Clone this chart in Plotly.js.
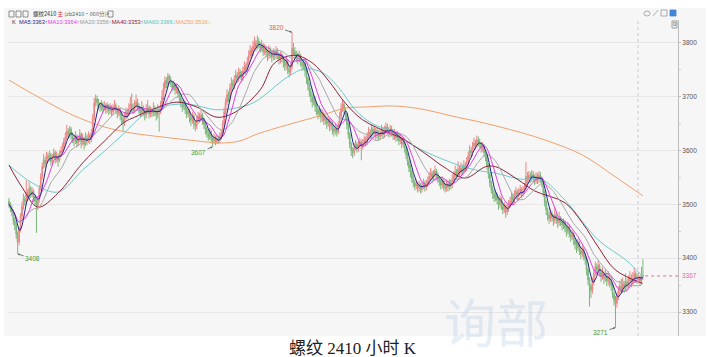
<!DOCTYPE html>
<html><head><meta charset="utf-8">
<script src="https://cdn.plot.ly/plotly-3.0.1.min.js"></script>
<style>html,body{margin:0;padding:0;background:#fff;}#chart{width:707px;height:357px;}</style>
</head><body><div id="chart"></div>
<script>
const open = [
3506,3500,3492,3486,3470,3462,3445,3430,3452,3478,
3496,3510,3505,3522,3515,3530,3518,3524,3512,3506,
3498,3508,3530,3552,3570,3582,3576,3590,3586,3592,
3580,3588,3596,3584,3590,3582,3594,3600,3606,3618,
3625,3636,3630,3640,3628,3622,3618,3626,3614,3620,
3630,3616,3622,3612,3624,3618,3628,3620,3632,3660,
3688,3696,3690,3684,3680,3686,3678,3684,3676,3682,
3674,3680,3672,3678,3684,3676,3670,3676,3666,3658,
3652,3664,3672,3668,3678,3686,3680,3676,3684,3690,
3682,3676,3670,3678,3672,3666,3674,3680,3668,3674,
3670,3678,3672,3666,3676,3672,3684,3700,3716,3730,
3724,3738,3732,3726,3718,3722,3712,3716,3706,3698,
3690,3682,3688,3676,3668,3674,3662,3656,3664,3650,
3646,3656,3664,3660,3666,3656,3648,3640,3632,3626,
3634,3622,3618,3624,3616,3622,3618,3626,3632,3650,
3672,3690,3704,3698,3716,3726,3720,3732,3740,3734,
3746,3740,3736,3748,3756,3750,3764,3776,3786,3780,
3794,3800,3792,3804,3798,3790,3796,3784,3790,3782,
3776,3786,3780,3774,3782,3776,3784,3778,3770,3776,
3772,3764,3758,3766,3752,3746,3756,3790,3784,3778,
3772,3770,3776,3764,3758,3762,3748,3734,3722,3710,
3700,3690,3696,3682,3676,3668,3674,3662,3668,3656,
3660,3650,3656,3646,3650,3640,3636,3642,3634,3646,
3664,3678,3686,3676,3666,3648,3630,3612,3600,3596,
3606,3612,3604,3610,3616,3608,3614,3620,3616,3626,
3634,3628,3640,3632,3638,3628,3634,3626,3632,3638,
3630,3636,3644,3638,3632,3640,3634,3628,3632,3624,
3628,3618,3622,3612,3616,3604,3592,3580,3568,3560,
3548,3540,3534,3538,3530,3536,3528,3534,3540,3532,
3538,3544,3552,3558,3550,3556,3562,3554,3548,3542,
3536,3544,3534,3530,3538,3532,3540,3536,3546,3552,
3560,3556,3566,3560,3568,3562,3572,3568,3580,3590,
3600,3596,3608,3614,3610,3620,3616,3612,3604,3608,
3596,3588,3572,3556,3540,3528,3520,3512,3518,3508,
3500,3510,3498,3490,3496,3486,3492,3500,3506,3514,
3508,3518,3524,3516,3522,3528,3520,3526,3532,3552,
3546,3554,3548,3556,3550,3544,3552,3546,3554,3548,
3540,3522,3504,3490,3480,3474,3482,3476,3470,3480,
3472,3466,3474,3468,3462,3466,3456,3450,3458,3446,
3440,3444,3434,3426,3420,3428,3414,3408,3416,3404,
3398,3378,3360,3348,3340,3356,3372,3384,3378,3386,
3374,3366,3372,3362,3368,3358,3364,3356,3350,3334,
3322,3316,3328,3340,3348,3342,3352,3346,3356,3350,
3358,3364,3356,3362,3370,3364,3362,3364,3358,3368];
const high = [
3512,3504,3498,3490,3476,3466,3450,3458,3484,3504,
3520,3516,3545,3528,3542,3534,3532,3528,3516,3510,
3514,3536,3558,3578,3594,3588,3598,3596,3600,3596,
3594,3604,3600,3598,3594,3600,3608,3614,3624,3634,
3648,3642,3646,3644,3634,3628,3636,3630,3628,3640,
3634,3632,3626,3634,3630,3636,3632,3640,3668,3698,
3704,3702,3696,3690,3694,3690,3692,3688,3690,3686,
3688,3684,3686,3694,3688,3680,3684,3680,3670,3662,
3672,3680,3678,3688,3700,3706,3688,3694,3704,3696,
3688,3682,3692,3684,3678,3686,3694,3684,3682,3680,
3690,3684,3676,3686,3680,3692,3712,3726,3738,3736,
3744,3742,3738,3730,3730,3726,3724,3720,3710,3702,
3694,3696,3692,3680,3682,3678,3668,3672,3668,3656,
3664,3672,3670,3676,3670,3660,3652,3644,3638,3642,
3638,3628,3632,3628,3630,3628,3634,3640,3656,3680,
3698,3714,3710,3724,3736,3732,3740,3750,3746,3754,
3752,3748,3756,3766,3762,3774,3786,3796,3792,3804,
3812,3806,3814,3810,3802,3806,3800,3798,3794,3788,
3796,3792,3786,3790,3788,3794,3790,3782,3784,3782,
3776,3770,3774,3770,3758,3764,3820,3800,3792,3786,
3782,3786,3780,3770,3770,3766,3752,3738,3726,3716,
3706,3704,3700,3688,3680,3684,3678,3676,3672,3668,
3664,3664,3660,3658,3654,3646,3650,3646,3654,3672,
3688,3694,3690,3680,3670,3652,3634,3616,3606,3614,
3620,3616,3618,3624,3620,3622,3628,3626,3634,3644,
3640,3648,3644,3646,3642,3642,3638,3640,3648,3644,
3646,3652,3650,3644,3648,3646,3640,3640,3636,3636,
3632,3630,3626,3624,3620,3608,3596,3584,3574,3564,
3554,3546,3546,3542,3544,3540,3542,3548,3544,3546,
3552,3560,3568,3562,3564,3572,3566,3560,3552,3548,
3552,3548,3540,3546,3542,3548,3546,3556,3562,3572,
3566,3580,3572,3578,3574,3582,3578,3588,3598,3610,
3606,3616,3624,3620,3628,3626,3622,3616,3616,3612,
3600,3592,3576,3560,3544,3534,3526,3526,3522,3514,
3518,3514,3502,3504,3500,3500,3508,3514,3522,3520,
3526,3532,3528,3530,3536,3532,3534,3540,3579,3560,
3562,3560,3564,3562,3556,3560,3558,3562,3560,3552,
3544,3526,3508,3494,3486,3492,3488,3482,3494,3484,
3478,3486,3478,3472,3474,3470,3462,3466,3462,3452,
3452,3448,3438,3432,3436,3432,3420,3424,3420,3410,
3402,3382,3364,3352,3364,3380,3394,3390,3396,3390,
3380,3384,3376,3380,3372,3376,3368,3362,3354,3338,
3330,3336,3348,3358,3362,3364,3358,3372,3362,3368,
3376,3370,3374,3382,3376,3372,3374,3368,3384,3398];
const low = [
3494,3486,3478,3462,3452,3436,3408,3424,3448,3472,
3490,3498,3500,3508,3510,3512,3514,3504,3498,3447,
3490,3504,3526,3546,3566,3568,3572,3578,3580,3572,
3574,3584,3576,3578,3570,3578,3588,3596,3602,3612,
3620,3622,3624,3620,3614,3608,3612,3606,3608,3616,
3604,3610,3602,3608,3610,3614,3612,3616,3628,3656,
3682,3682,3676,3672,3674,3670,3674,3668,3670,3666,
3668,3664,3666,3674,3668,3660,3664,3656,3648,3635,
3646,3658,3660,3664,3672,3672,3668,3670,3678,3674,
3668,3662,3664,3664,3656,3660,3668,3660,3662,3662,
3664,3664,3656,3660,3635,3668,3680,3694,3710,3716,
3718,3724,3718,3710,3712,3704,3706,3698,3690,3680,
3672,3676,3668,3660,3662,3652,3646,3650,3640,3636,
3640,3650,3652,3654,3648,3640,3630,3624,3618,3620,
3614,3607,3612,3610,3612,3612,3614,3620,3628,3646,
3666,3684,3690,3692,3710,3712,3714,3726,3726,3728,
3732,3728,3730,3742,3742,3746,3758,3770,3772,3776,
3788,3784,3788,3790,3782,3784,3776,3778,3774,3766,
3770,3772,3764,3768,3768,3770,3770,3760,3762,3764,
3754,3748,3750,3742,3736,3740,3750,3776,3770,3764,
3760,3764,3756,3748,3750,3738,3724,3712,3700,3690,
3680,3684,3672,3666,3658,3662,3652,3654,3648,3648,
3640,3644,3636,3638,3630,3626,3630,3626,3630,3642,
3660,3672,3668,3656,3640,3622,3604,3590,3586,3590,
3600,3596,3598,3604,3582,3602,3608,3608,3610,3620,
3620,3622,3624,3626,3620,3622,3618,3620,3626,3622,
3624,3630,3630,3624,3626,3626,3620,3620,3616,3618,
3610,3612,3604,3606,3596,3584,3572,3560,3550,3540,
3532,3526,3528,3522,3524,3520,3522,3528,3524,3526,
3532,3538,3546,3542,3544,3550,3546,3540,3534,3528,
3530,3526,3522,3524,3524,3526,3528,3530,3540,3546,
3548,3550,3552,3554,3554,3556,3560,3562,3574,3584,
3588,3590,3602,3602,3604,3608,3604,3596,3598,3588,
3580,3564,3548,3532,3520,3510,3504,3506,3500,3490,
3494,3490,3482,3484,3475,3480,3486,3494,3500,3500,
3502,3512,3508,3510,3516,3512,3514,3520,3528,3538,
3540,3540,3542,3542,3536,3538,3538,3540,3540,3532,
3514,3496,3480,3470,3464,3468,3468,3460,3464,3464,
3456,3460,3460,3452,3454,3448,3440,3444,3438,3430,
3434,3424,3416,3410,3414,3406,3398,3402,3396,3388,
3368,3350,3310,3326,3334,3350,3366,3370,3372,3366,
3356,3360,3352,3356,3348,3350,3346,3340,3326,3312,
3271,3308,3322,3334,3334,3336,3336,3340,3340,3344,
3350,3346,3350,3356,3354,3352,3354,3348,3352,3360];
const close = [
3500,3492,3486,3470,3462,3445,3430,3452,3478,3496,
3510,3505,3522,3515,3530,3518,3524,3512,3506,3498,
3508,3530,3552,3570,3582,3576,3590,3586,3592,3580,
3588,3596,3584,3590,3582,3594,3600,3606,3618,3625,
3636,3630,3640,3628,3622,3618,3626,3614,3620,3630,
3616,3622,3612,3624,3618,3628,3620,3632,3660,3688,
3696,3690,3684,3680,3686,3678,3684,3676,3682,3674,
3680,3672,3678,3684,3676,3670,3676,3666,3658,3652,
3664,3672,3668,3678,3686,3680,3676,3684,3690,3682,
3676,3670,3678,3672,3666,3674,3680,3668,3674,3670,
3678,3672,3666,3676,3672,3684,3700,3716,3730,3724,
3738,3732,3726,3718,3722,3712,3716,3706,3698,3690,
3682,3688,3676,3668,3674,3662,3656,3664,3650,3646,
3656,3664,3660,3666,3656,3648,3640,3632,3626,3634,
3622,3618,3624,3616,3622,3618,3626,3632,3650,3672,
3690,3704,3698,3716,3726,3720,3732,3740,3734,3746,
3740,3736,3748,3756,3750,3764,3776,3786,3780,3794,
3800,3792,3804,3798,3790,3796,3784,3790,3782,3776,
3786,3780,3774,3782,3776,3784,3778,3770,3776,3772,
3764,3758,3766,3752,3746,3756,3790,3784,3778,3772,
3770,3776,3764,3758,3762,3748,3734,3722,3710,3700,
3690,3696,3682,3676,3668,3674,3662,3668,3656,3660,
3650,3656,3646,3650,3640,3636,3642,3634,3646,3664,
3678,3686,3676,3666,3648,3630,3612,3600,3596,3606,
3612,3604,3610,3616,3608,3614,3620,3616,3626,3634,
3628,3640,3632,3638,3628,3634,3626,3632,3638,3630,
3636,3644,3638,3632,3640,3634,3628,3632,3624,3628,
3618,3622,3612,3616,3604,3592,3580,3568,3560,3548,
3540,3534,3538,3530,3536,3528,3534,3540,3532,3538,
3544,3552,3558,3550,3556,3562,3554,3548,3542,3536,
3544,3534,3530,3538,3532,3540,3536,3546,3552,3560,
3556,3566,3560,3568,3562,3572,3568,3580,3590,3600,
3596,3608,3614,3610,3620,3616,3612,3604,3608,3596,
3588,3572,3556,3540,3528,3520,3512,3518,3508,3500,
3510,3498,3490,3496,3486,3492,3500,3506,3514,3508,
3518,3524,3516,3522,3528,3520,3526,3532,3552,3546,
3554,3548,3556,3550,3544,3552,3546,3554,3548,3540,
3522,3504,3490,3480,3474,3482,3476,3470,3480,3472,
3466,3474,3468,3462,3466,3456,3450,3458,3446,3440,
3444,3434,3426,3420,3428,3414,3408,3416,3404,3398,
3378,3360,3348,3340,3356,3372,3384,3378,3386,3374,
3366,3372,3362,3368,3358,3364,3356,3350,3334,3322,
3316,3328,3340,3348,3342,3352,3346,3356,3350,3358,
3364,3356,3362,3370,3364,3362,3364,3358,3368,3367];

// long moving averages (bar index, value)
const ma40Idx = [0,9,20,34,51,67,80,87,98,116,130,144,157,174,184,198,210,221,233,245,264,272,288,302,316,330,337,353,364,385,397,408,420,439];
const ma40Val = [3573,3532,3495,3521,3577,3620,3653,3662,3675,3690,3681,3662,3672,3713,3763,3777,3763,3731,3688,3657,3632,3623,3595,3568,3549,3570,3570,3545,3525,3503,3466,3421,3378,3353];
const ma60Idx = [0,16,34,51,67,80,94,108,125,143,157,170,193,205,217,228,240,251,264,283,307,323,337,354,369,385,408,427,439];
const ma60Val = [3573,3540,3523,3564,3601,3633,3668,3683,3686,3676,3679,3690,3737,3752,3745,3718,3675,3651,3636,3605,3577,3564,3558,3547,3546,3508,3434,3397,3366];
const ma250Idx = [0,20,44,66,84,107,130,146,160,172,193,217,233,247,264,276,290,307,323,337,354,373,397,420,439];
const ma250Val = [3731,3700,3666,3644,3633,3625,3618,3614,3618,3631,3648,3666,3679,3681,3683,3681,3675,3664,3655,3646,3634,3618,3592,3551,3516];

const yTicks = [3300,3400,3500,3600,3700,3800];
const lastPrice = 3367;
const extremes = [
  {i:196, v:3820, txt:'3820', col:'#e8604c', ax:-16, ay:-5},
  {i:141, v:3607, txt:'3607', col:'#3f9a3f', ax:-14, ay:6},
  {i:6,   v:3408, txt:'3408', col:'#3f9a3f', ax:15, ay:5},
  {i:420, v:3271, txt:'3271', col:'#3f9a3f', ax:-15, ay:5}
];

const idx = close.map((_, i) => i);
function ma(n) {
  return close.map((_, i) => {
    const s = Math.max(0, i - n + 1);
    let sum = 0;
    for (let k = s; k <= i; k++) sum += close[k];
    return sum / (i - s + 1);
  });
}

const traces = [
  {type:'candlestick', x:idx, open:open, high:high, low:low, close:close,
   increasing:{line:{color:'#ee8484', width:1}, fillcolor:'#f8b2b2'},
   decreasing:{line:{color:'#7ab87a', width:1}, fillcolor:'#a0cda0'},
   hoverinfo:'skip', showlegend:false},
  {type:'scatter', mode:'lines', x:ma250Idx, y:ma250Val, line:{color:'#f2a06c', width:1, shape:'spline'}, hoverinfo:'skip', showlegend:false},
  {type:'scatter', mode:'lines', x:ma60Idx, y:ma60Val, line:{color:'#6fcaca', width:1, shape:'spline'}, hoverinfo:'skip', showlegend:false},
  {type:'scatter', mode:'lines', x:ma40Idx, y:ma40Val, line:{color:'#8e2236', width:1, shape:'spline'}, hoverinfo:'skip', showlegend:false},
  {type:'scatter', mode:'lines', x:idx, y:ma(20), line:{color:'#a8a8a8', width:1}, hoverinfo:'skip', showlegend:false},
  {type:'scatter', mode:'lines', x:idx, y:ma(10), line:{color:'#e040e0', width:1}, hoverinfo:'skip', showlegend:false},
  {type:'scatter', mode:'lines', x:idx, y:ma(5), line:{color:'#23238c', width:1}, hoverinfo:'skip', showlegend:false}
];

const W = 707, H = 357, L = 8, R = 678, T = 20, B = 336;
const px = v => (v - L) / (R - L);
const py = v => (B - v) / (B - T);

const annotations = extremes.map(e => ({
  x:e.i, y:e.v, xref:'x', yref:'y', text:e.txt, showarrow:true,
  ax:e.ax, ay:e.ay, arrowhead:2, arrowsize:0.5, arrowwidth:0.8, arrowcolor:'#555',
  font:{family:'Arial, Liberation Sans, sans-serif', size:6.5, color:e.col}
}));
annotations.push(
  {xref:'paper', yref:'y', x:1, y:lastPrice, xanchor:'left', xshift:2, text:String(lastPrice), showarrow:false,
   font:{family:'Arial, Liberation Sans, sans-serif', size:6.5, color:'#e070a0'}},
  {xref:'paper', yref:'paper', x:px(31), y:py(14), xanchor:'left', yanchor:'middle', showarrow:false,
   text:'<span style="color:#333">螺纹2410</span> <span style="color:#e03030">主</span> <span style="color:#666">(zb2410·060分)&gt;</span>',
   font:{family:'Noto Sans CJK SC, sans-serif', size:5.5}},
  {xref:'paper', yref:'paper', x:px(10), y:py(21.5), xanchor:'left', yanchor:'middle', showarrow:false,
   text:'<span style="color:#333">K</span>  <span style="color:#23238c">MA5:3363↑</span><span style="color:#e040e0">MA10:3364↑</span><span style="color:#999">MA20:3356↑</span><span style="color:#8e2236">MA40:3353↑</span><span style="color:#5cc0c0">MA60:3366↓</span><span style="color:#f2a06c">MA250:3516↓</span>',
   font:{family:'Arial, Liberation Sans, sans-serif', size:5.7}},
  {xref:'paper', yref:'paper', x:px(674.5), y:py(24.5), xanchor:'center', yanchor:'middle', showarrow:false,
   text:'0', font:{family:'Arial, sans-serif', size:6, color:'#555'}},
  {xref:'paper', yref:'paper', x:px(353), y:py(348), xanchor:'center', yanchor:'middle', showarrow:false,
   text:'螺纹 2410 小时 K', font:{family:'Liberation Serif, Noto Sans CJK SC, serif', size:17, color:'#222'}},
  {xref:'paper', yref:'paper', x:px(496), y:py(320), xanchor:'center', yanchor:'middle', showarrow:false,
   text:'询部', font:{family:'Noto Sans CJK SC, sans-serif', size:52, color:'rgba(140,178,220,0.22)'}}
);

const shapes = [
  {type:'rect', xref:'paper', yref:'paper', x0:px(4), x1:px(706), y0:0, y1:py(8), fillcolor:'#f6f6f6', line:{width:0}, layer:'below'},
  {type:'line', xref:'x', yref:'paper', x0:435.6, x1:435.6, y0:0, y1:1, line:{color:'#c8c8c8', width:1, dash:'dot'}},
  {type:'line', xref:'x', yref:'y', x0:440.5, x1:463.3, y0:lastPrice, y1:lastPrice, line:{color:'#e070a0', width:1, dash:'dot'}},
  {type:'rect', xref:'paper', yref:'paper', x0:px(9), x1:px(14), y0:py(17), y1:py(11), line:{color:'#777', width:0.8}},
  {type:'rect', xref:'paper', yref:'paper', x0:px(16), x1:px(21), y0:py(17), y1:py(11), line:{color:'#777', width:0.8}},
  {type:'rect', xref:'paper', yref:'paper', x0:px(23), x1:px(28), y0:py(17), y1:py(11), line:{color:'#777', width:0.8}},
  {type:'rect', xref:'paper', yref:'paper', x0:px(108), x1:px(113), y0:py(17), y1:py(11), line:{color:'#777', width:0.8}},
  {type:'circle', xref:'paper', yref:'paper', x0:px(644), x1:px(650), y0:py(16), y1:py(11), line:{color:'#999', width:0.8}},
  {type:'line', xref:'paper', yref:'paper', x0:px(653), x1:px(658), y0:py(16), y1:py(10), line:{color:'#999', width:0.8}},
  {type:'rect', xref:'paper', yref:'paper', x0:px(661), x1:px(667), y0:py(16), y1:py(10), line:{color:'#999', width:0.8}},
  {type:'rect', xref:'paper', yref:'paper', x0:px(670), x1:px(676), y0:py(16), y1:py(10), fillcolor:'#3f86d6', line:{color:'#3f86d6', width:0.8}},
  {type:'rect', xref:'paper', yref:'paper', x0:px(672), x1:px(677), y0:py(28), y1:py(21), line:{color:'#888', width:0.8}}
];

const layout = {
  width:W, height:H,
  margin:{l:L, r:W - R, t:T, b:H - B, pad:0},
  paper_bgcolor:'#ffffff', plot_bgcolor:'#f6f6f6',
  showlegend:false, dragmode:false,
  xaxis:{range:[-0.69, 463.3], showgrid:false, zeroline:false, showticklabels:false, ticks:'', showline:false, rangeslider:{visible:false}, fixedrange:true},
  yaxis:{side:'right', range:[3255.4, 3842.7], tickvals:yTicks, ticktext:yTicks.map(String),
         showgrid:true, gridcolor:'#e6e6e6', gridwidth:1, zeroline:false,
         showline:true, linecolor:'#bdbdbd', linewidth:1, ticks:'outside', ticklen:2, tickcolor:'#bdbdbd',
         minor:{dtick:50, tick0:3250, ticks:'outside', ticklen:2, tickcolor:'#cfcfcf', showgrid:false},
         tickfont:{family:'Arial, Liberation Sans, sans-serif', size:6.5, color:'#555'}, fixedrange:true},
  annotations:annotations, shapes:shapes
};

Plotly.newPlot('chart', traces, layout, {displayModeBar:false, staticPlot:true});
</script>
</body></html>
